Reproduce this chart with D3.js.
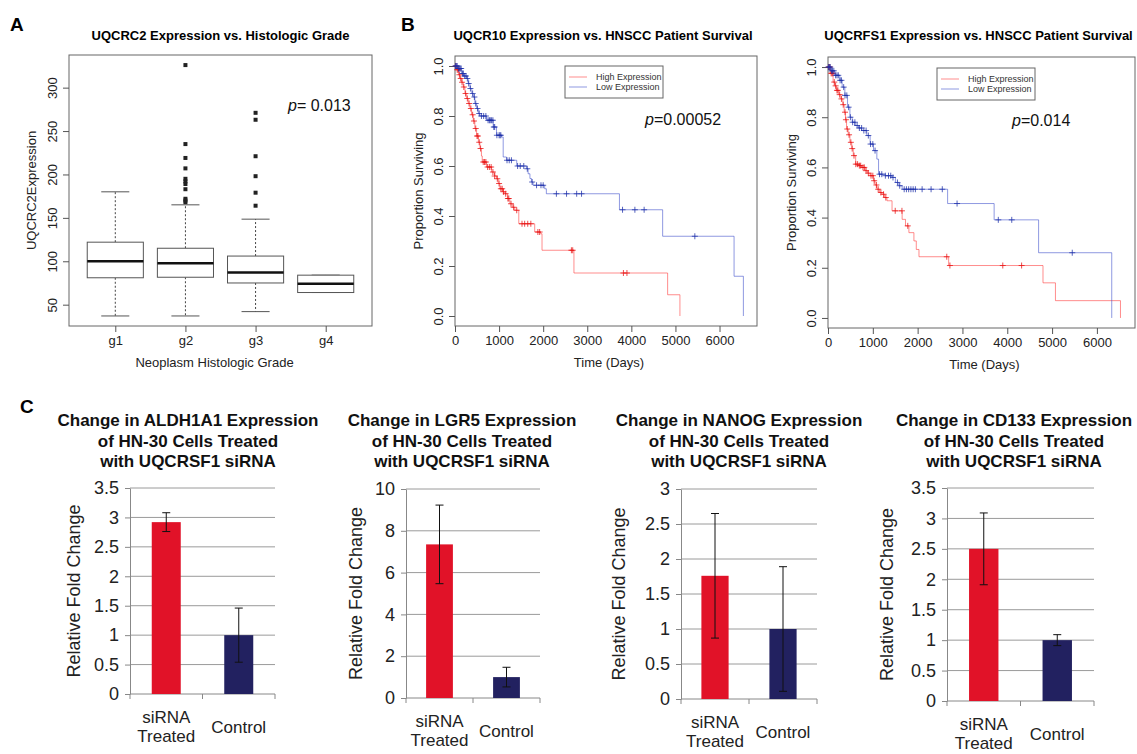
<!DOCTYPE html>
<html>
<head>
<meta charset="utf-8">
<script src="https://cdn.jsdelivr.net/npm/d3@7"></script>
<style>
body { margin: 0; background: #fff; }
svg { display: block; font-family: "Liberation Sans", Arial, sans-serif; }
</style>
</head>
<body>
<div id="fig"></div>
<script>
// ---------- data: panel A (boxplot) ----------
var grades = ["g1", "g2", "g3", "g4"];
var whiskLow = [37, 37, 42, 64];
var q1 = [81, 81.6, 75, 64];
var medians = [100, 97.8, 87, 74];
var q3 = [122, 115, 106, 84];
var whiskHigh = [180, 165, 148.5, 84];
var outliersG2 = [326, 235, 219, 207, 195, 192, 189, 183, 172, 170, 168];
var outliersG3 = [271, 263, 221, 198, 179, 164];

// ---------- data: panel B (Kaplan-Meier) ----------
// UQCR10
var hiTimesL = [0, 40, 80, 113, 150, 188, 225, 264, 300, 339, 375, 414, 450, 490, 530, 565, 600, 618, 716, 829, 900, 942, 980, 1017, 1080, 1130, 1190, 1243, 1300, 1356, 1447, 1808, 1944, 1974, 2698, 4823, 5102];
var hiSurvL = [1, 0.985, 0.965, 0.95, 0.935, 0.916, 0.89, 0.87, 0.85, 0.83, 0.805, 0.78, 0.75, 0.72, 0.695, 0.67, 0.64, 0.616, 0.596, 0.576, 0.56, 0.549, 0.53, 0.509, 0.497, 0.489, 0.47, 0.449, 0.435, 0.423, 0.369, 0.336, 0.329, 0.263, 0.172, 0.085, 0];
var loTimesL = [0, 60, 150, 200, 264, 300, 339, 380, 414, 450, 490, 530, 565, 716, 867, 942, 1055, 1093, 1168, 1400, 1620, 1658, 1700, 1733, 1771, 2034, 2072, 3730, 4710, 6330, 6541];
var loSurvL = [1, 0.99, 0.97, 0.96, 0.95, 0.93, 0.91, 0.89, 0.876, 0.85, 0.83, 0.81, 0.80, 0.783, 0.756, 0.723, 0.716, 0.636, 0.623, 0.6, 0.589, 0.569, 0.55, 0.536, 0.523, 0.509, 0.489, 0.425, 0.319, 0.159, 0];
var hiCensL = [20, 50, 70, 100, 130, 160, 200, 240, 280, 320, 360, 400, 430, 470, 500, 520, 550, 580, 640, 670, 700, 740, 780, 820, 860, 900, 960, 1000, 1040, 1070, 1100, 1150, 1200, 1220, 1270, 1330, 1400, 1520, 1580, 1650, 1720, 1880, 1920, 2640, 2670, 3820, 3900];
var loCensL = [10, 30, 50, 80, 100, 120, 140, 170, 190, 220, 250, 280, 310, 350, 400, 440, 470, 510, 550, 600, 650, 700, 750, 780, 800, 830, 860, 880, 900, 950, 1000, 1020, 1040, 1180, 1230, 1280, 1420, 1480, 1560, 1640, 1750, 1850, 1950, 2000, 2300, 2530, 2760, 2870, 3800, 4080, 4290, 5440];
// UQCRFS1
var hiTimesR = [0, 50, 113, 150, 188, 240, 286, 330, 361, 390, 414, 450, 489, 530, 564, 617, 700, 752, 827, 880, 940, 1015, 1050, 1090, 1150, 1203, 1260, 1316, 1429, 1654, 1729, 1805, 1917, 1970, 2030, 2692, 4797, 5075, 6526];
var hiSurvR = [1, 0.975, 0.94, 0.925, 0.907, 0.89, 0.873, 0.85, 0.82, 0.79, 0.753, 0.73, 0.70, 0.675, 0.647, 0.613, 0.607, 0.6, 0.587, 0.577, 0.567, 0.547, 0.53, 0.513, 0.5, 0.493, 0.48, 0.467, 0.427, 0.393, 0.367, 0.34, 0.307, 0.273, 0.244, 0.209, 0.14, 0.069, 0];
var loTimesR = [0, 60, 150, 263, 316, 376, 436, 489, 540, 602, 680, 752, 865, 940, 1015, 1090, 1128, 1278, 1429, 1504, 1580, 1654, 2669, 3707, 4699, 6331];
var loSurvR = [1, 0.985, 0.967, 0.947, 0.92, 0.887, 0.84, 0.80, 0.78, 0.767, 0.757, 0.747, 0.727, 0.693, 0.667, 0.633, 0.573, 0.567, 0.56, 0.54, 0.527, 0.513, 0.456, 0.391, 0.26, 0];
var hiCensR = [20, 40, 70, 90, 110, 140, 170, 200, 220, 260, 300, 340, 380, 400, 430, 470, 510, 540, 580, 620, 660, 700, 730, 780, 810, 850, 900, 960, 1000, 1030, 1080, 1120, 1180, 1240, 1290, 1500, 1650, 1780, 2650, 2720, 3900, 4320];
var loCensR = [10, 30, 50, 80, 100, 130, 170, 200, 230, 270, 300, 350, 380, 420, 460, 500, 550, 600, 650, 700, 750, 800, 850, 900, 950, 1000, 1050, 1150, 1200, 1280, 1350, 1400, 1450, 1550, 1600, 1700, 1750, 1800, 1850, 1900, 1950, 2100, 2300, 2550, 2880, 3800, 4100, 5450];

// ---------- data: panel C (bar charts) ----------
var genes = ["ALDH1A1", "LGR5", "NANOG", "CD133"];
var barCats = ["siRNA Treated", "Control"];
var barMeans = [[2.92, 1.0], [7.35, 1.0], [1.76, 1.0], [2.5, 1.0]];
var barErrs = [[0.16, 0.46], [1.88, 0.47], [0.89, 0.89], [0.59, 0.09]];
var barMax = [3.5, 10, 3, 3.5];
var barStep = [0.5, 2, 0.5, 0.5];

var svg = d3.select("#fig").append("svg")
  .attr("width", 1137)
  .attr("height", 754);
svg.append("rect").attr("width", 1137).attr("height", 754).attr("fill", "#fff");

function letter(t, x, y) {
  svg.append("text").attr("x", x).attr("y", y)
    .attr("font-size", 19).attr("font-weight", "bold").text(t);
}
letter("A", 10, 31);
letter("B", 401, 31);
letter("C", 20, 413);

// R-ish axis helpers: rotated y labels, no domain line
function rAxisLeft(g, scale, vals, fmt) {
  g.call(d3.axisLeft(scale).tickValues(vals).tickSize(6).tickFormat(fmt));
  g.select(".domain").remove();
  g.selectAll(".tick line").attr("stroke", "#555");
  g.selectAll(".tick text")
    .attr("transform", "rotate(-90)")
    .attr("x", 0).attr("y", -12).attr("dy", 0)
    .attr("text-anchor", "middle")
    .attr("font-size", 13).attr("fill", "#222");
}
function rAxisBottom(g, scale, vals, fmt) {
  g.call(d3.axisBottom(scale).tickValues(vals).tickSize(6).tickPadding(4).tickFormat(fmt));
  g.select(".domain").remove();
  g.selectAll(".tick line").attr("stroke", "#555");
  g.selectAll(".tick text").attr("font-size", 13).attr("fill", "#222");
}

// ================= Panel A =================
var boxA = {left: 69, right: 372, top: 55, bottom: 326};
var xA = d3.scaleLinear().domain([0.34, 4.66]).range([boxA.left, boxA.right]);
var yA = d3.scaleLinear().domain([25.44, 337.6]).range([boxA.bottom, boxA.top]);
var gA = svg.append("g");

gA.append("text").attr("x", (boxA.left + boxA.right) / 2).attr("y", 40)
  .attr("text-anchor", "middle").attr("font-size", 13).attr("font-weight", "bold")
  .text("UQCRC2 Expression vs. Histologic Grade");

gA.append("rect")
  .attr("x", boxA.left).attr("y", boxA.top)
  .attr("width", boxA.right - boxA.left).attr("height", boxA.bottom - boxA.top)
  .attr("fill", "none").attr("stroke", "#666");

rAxisLeft(gA.append("g").attr("transform", `translate(${boxA.left},0)`), yA, [50, 100, 150, 200, 250, 300], d3.format("d"));
rAxisBottom(gA.append("g").attr("transform", `translate(0,${boxA.bottom})`), xA, [1, 2, 3, 4], d => grades[d - 1]);

gA.append("text")
  .attr("transform", `translate(36,${(boxA.top + boxA.bottom) / 2}) rotate(-90)`)
  .attr("text-anchor", "middle").attr("font-size", 13).attr("fill", "#222")
  .text("UQCRC2Expression");
gA.append("text").attr("x", (boxA.left + boxA.right) / 2 - 6).attr("y", 367)
  .attr("text-anchor", "middle").attr("font-size", 13).attr("fill", "#222")
  .text("Neoplasm Histologic Grade");

var boxHalf = (xA(1.4) - xA(0.6)) / 2;
var capHalf = boxHalf / 2;
grades.forEach(function(gr, i) {
  var cx = xA(i + 1);
  // whiskers
  gA.append("line").attr("x1", cx).attr("x2", cx).attr("y1", yA(q3[i])).attr("y2", yA(whiskHigh[i]))
    .attr("stroke", "#444").attr("stroke-dasharray", "2,2");
  gA.append("line").attr("x1", cx).attr("x2", cx).attr("y1", yA(q1[i])).attr("y2", yA(whiskLow[i]))
    .attr("stroke", "#444").attr("stroke-dasharray", "2,2");
  gA.append("line").attr("x1", cx - capHalf).attr("x2", cx + capHalf).attr("y1", yA(whiskHigh[i])).attr("y2", yA(whiskHigh[i]))
    .attr("stroke", "#555");
  gA.append("line").attr("x1", cx - capHalf).attr("x2", cx + capHalf).attr("y1", yA(whiskLow[i])).attr("y2", yA(whiskLow[i]))
    .attr("stroke", "#555");
  // box
  gA.append("rect").attr("x", cx - boxHalf).attr("y", yA(q3[i]))
    .attr("width", boxHalf * 2).attr("height", yA(q1[i]) - yA(q3[i]))
    .attr("fill", "#fff").attr("stroke", "#555");
  gA.append("line").attr("x1", cx - boxHalf).attr("x2", cx + boxHalf).attr("y1", yA(medians[i])).attr("y2", yA(medians[i]))
    .attr("stroke", "#111").attr("stroke-width", 2.5);
});

[[2, outliersG2], [3, outliersG3]].forEach(function(o) {
  gA.selectAll(null).data(o[1]).enter().append("rect")
    .attr("x", xA(o[0]) - 2).attr("y", d => yA(d) - 2)
    .attr("width", 4).attr("height", 4).attr("fill", "#222");
});

var pA = gA.append("text").attr("x", 288).attr("y", 111).attr("font-size", 16).attr("fill", "#111");
pA.append("tspan").attr("font-style", "italic").text("p");
pA.append("tspan").text("= 0.013");

// ================= Panel B =================
var kmPanels = [
  {left: 455, right: 757, top: 56, bottom: 326, title: "UQCR10 Expression vs. HNSCC Patient Survival",
   hiT: hiTimesL, hiS: hiSurvL, loT: loTimesL, loS: loSurvL, hiC: hiCensL, loC: loCensL,
   p: "=0.00052", px: 645, py: 125, legX: 565, legY: 66},
  {left: 828, right: 1135, top: 57, bottom: 328, title: "UQCRFS1 Expression vs. HNSCC Patient Survival",
   hiT: hiTimesR, hiS: hiSurvR, loT: loTimesR, loS: loSurvR, hiC: hiCensR, loC: loCensR,
   p: "=0.014", px: 1012, py: 126, legX: 937, legY: 68}
];
var hiColor = "#ff3030";
var loColor = "#3346c8";

function survAt(T, S, t) {
  var i = d3.bisectRight(T, t) - 1;
  return S[Math.max(0, i)];
}

kmPanels.forEach(function(p) {
  var g = svg.append("g");
  var x = d3.scaleLinear().domain([0, 6850]).range([p.left, p.right]);
  var y = d3.scaleLinear().domain([-0.04, 1.04]).range([p.bottom, p.top]);

  g.append("text").attr("x", (p.left + p.right) / 2 - 3).attr("y", 40)
    .attr("text-anchor", "middle").attr("font-size", 13).attr("font-weight", "bold")
    .text(p.title);

  g.append("rect").attr("x", p.left).attr("y", p.top)
    .attr("width", p.right - p.left).attr("height", p.bottom - p.top)
    .attr("fill", "none").attr("stroke", "#666");

  rAxisLeft(g.append("g").attr("transform", `translate(${p.left},0)`), y, [0, 0.2, 0.4, 0.6, 0.8, 1.0], d3.format(".1f"));
  rAxisBottom(g.append("g").attr("transform", `translate(0,${p.bottom})`), x, [0, 1000, 2000, 3000, 4000, 5000, 6000], d3.format("d"));

  g.append("text")
    .attr("transform", `translate(${p.left - 32},${(p.top + p.bottom) / 2}) rotate(-90)`)
    .attr("text-anchor", "middle").attr("font-size", 13).attr("fill", "#222")
    .text("Proportion Surviving");
  g.append("text").attr("x", (p.left + p.right) / 2 + 3).attr("y", p.bottom + 41)
    .attr("text-anchor", "middle").attr("font-size", 13).attr("fill", "#222")
    .text("Time (Days)");

  var line = d3.line().x(d => x(d[0])).y(d => y(d[1])).curve(d3.curveStepAfter);
  var curves = [
    {T: p.hiT, S: p.hiS, C: p.hiC, col: hiColor, mark: "#e81010"},
    {T: p.loT, S: p.loS, C: p.loC, col: loColor, mark: "#1c2fa8"}
  ];
  curves.forEach(function(c) {
    var pts = c.T.map((t, i) => [t, c.S[i]]);
    g.append("path").datum(pts).attr("d", line)
      .attr("fill", "none").attr("stroke", c.col).attr("stroke-opacity", 0.55).attr("stroke-width", 1);
    g.selectAll(null).data(c.C).enter().append("path")
      .attr("d", d => {
        var mx = x(d), my = y(survAt(c.T, c.S, d));
        return `M${mx - 3},${my}H${mx + 3}M${mx},${my - 3}V${my + 3}`;
      })
      .attr("stroke", c.mark).attr("stroke-opacity", 0.75).attr("stroke-width", 1);
  });

  // legend
  var lg = g.append("g").attr("transform", `translate(${p.legX},${p.legY})`);
  lg.append("rect").attr("width", 98).attr("height", 32).attr("fill", "#fff").attr("stroke", "#666");
  [["High Expression", hiColor], ["Low Expression", loColor]].forEach(function(e, i) {
    lg.append("line").attr("x1", 4).attr("x2", 22).attr("y1", 11 + i * 10).attr("y2", 11 + i * 10)
      .attr("stroke", e[1]).attr("stroke-opacity", 0.55);
    lg.append("text").attr("x", 31).attr("y", 14 + i * 10).attr("font-size", 9).attr("fill", "#333").text(e[0]);
  });

  var pt = g.append("text").attr("x", p.px).attr("y", p.py).attr("font-size", 16).attr("fill", "#111");
  pt.append("tspan").attr("font-style", "italic").text("p");
  pt.append("tspan").text(p.p);
});

// ================= Panel C =================
var barLayout = [
  {left: 130, right: 275, top: 488, bottom: 694, ylab: 74, tx: 188},
  {left: 406, right: 540, top: 489, bottom: 698, ylab: 356, tx: 462},
  {left: 681, right: 817, top: 489, bottom: 699, ylab: 619, tx: 739},
  {left: 947, right: 1094, top: 488, bottom: 701, ylab: 887, tx: 1014}
];
var barColors = ["#e11228", "#222160"];

genes.forEach(function(gene, k) {
  var L = barLayout[k];
  var g = svg.append("g");
  var x = d3.scaleBand().domain(barCats).range([L.left, L.right]).paddingInner(0.6).paddingOuter(0.3);
  var y = d3.scaleLinear().domain([0, barMax[k]]).range([L.bottom, L.top]);
  var ticks = d3.range(0, barMax[k] + barStep[k] / 2, barStep[k]);

  var titleLines = ["Change in " + gene + " Expression", "of HN-30 Cells Treated", "with UQCRSF1 siRNA"];
  titleLines.forEach(function(t, i) {
    g.append("text").attr("x", L.tx).attr("y", 426 + i * 20.5)
      .attr("text-anchor", "middle").attr("font-size", 17).attr("font-weight", "bold").attr("fill", "#111")
      .text(t);
  });

  // gridlines
  g.selectAll(null).data(ticks.filter(d => d > 0)).enter().append("line")
    .attr("x1", L.left).attr("x2", L.right).attr("y1", d => y(d)).attr("y2", d => y(d))
    .attr("stroke", "#9a9a9a");

  var yAx = g.append("g").attr("transform", `translate(${L.left},0)`)
    .call(d3.axisLeft(y).tickValues(ticks).tickSize(5).tickSizeOuter(0).tickPadding(6).tickFormat(d => String(+d.toFixed(1))));
  yAx.select(".domain").attr("stroke", "#888");
  yAx.selectAll(".tick line").attr("stroke", "#888");
  yAx.selectAll(".tick text").attr("font-size", 18).attr("fill", "#222");

  g.append("line").attr("x1", L.left).attr("x2", L.right).attr("y1", L.bottom).attr("y2", L.bottom).attr("stroke", "#888");
  g.selectAll(null).data([L.left, (L.left + L.right) / 2, L.right]).enter().append("line")
    .attr("x1", d => d).attr("x2", d => d).attr("y1", L.bottom).attr("y2", L.bottom + 5).attr("stroke", "#888");

  g.selectAll(null).data(barCats).enter().append("rect")
    .attr("x", d => x(d)).attr("width", x.bandwidth())
    .attr("y", (d, i) => y(barMeans[k][i])).attr("height", (d, i) => L.bottom - y(barMeans[k][i]))
    .attr("fill", (d, i) => barColors[i]);

  barCats.forEach(function(c, i) {
    var cx = x(c) + x.bandwidth() / 2;
    var hi = y(barMeans[k][i] + barErrs[k][i]), lo = y(barMeans[k][i] - barErrs[k][i]);
    g.append("line").attr("x1", cx).attr("x2", cx).attr("y1", hi).attr("y2", lo).attr("stroke", "#111");
    g.append("line").attr("x1", cx - 4).attr("x2", cx + 4).attr("y1", hi).attr("y2", hi).attr("stroke", "#111");
    g.append("line").attr("x1", cx - 4).attr("x2", cx + 4).attr("y1", lo).attr("y2", lo).attr("stroke", "#111");
    var words = c === "Control" ? ["Control"] : ["siRNA", "Treated"];
    words.forEach(function(w, j) {
      var cy = words.length === 1 ? L.bottom + 33 : L.bottom + 23 + j * 19;
      g.append("text").attr("x", cx).attr("y", cy + 6)
        .attr("text-anchor", "middle").attr("font-size", 17).attr("fill", "#222").text(w);
    });
  });

  g.append("text")
    .attr("transform", `translate(${L.ylab},${(L.top + L.bottom) / 2}) rotate(-90)`)
    .attr("text-anchor", "middle").attr("dy", "0.35em").attr("font-size", 18).attr("fill", "#222")
    .text("Relative Fold Change");
});
</script>
</body>
</html>
